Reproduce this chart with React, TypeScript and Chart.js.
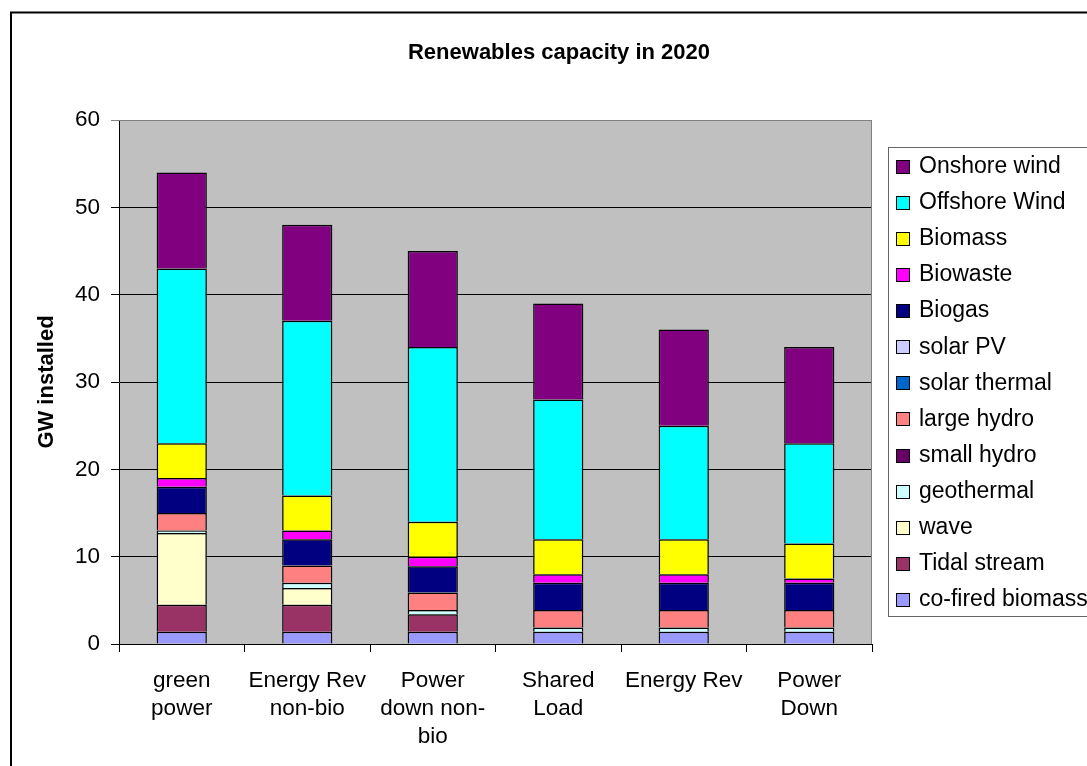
import React, { useEffect, useRef } from "react";
import { Chart, registerables } from "chart.js";

Chart.register(...registerables);

const FONT = '"Liberation Sans", Arial, Helvetica, sans-serif';

const categories: (string | string[])[] = [
  ["green", "power"],
  ["Energy Rev", "non-bio"],
  ["Power", "down non-", "bio"],
  ["Shared", "Load"],
  ["Energy Rev"],
  ["Power", "Down"],
];

// series, bottom of stack first
const coFiredBiomass = [1.4, 1.4, 1.4, 1.4, 1.4, 1.4];
const tidalStream = [3.1, 3.1, 2.0, 0, 0, 0];
const wave = [8.2, 1.9, 0, 0, 0, 0];
const geothermal = [0.3, 0.6, 0.5, 0.5, 0.5, 0.5];
const smallHydro = [0, 0, 0, 0, 0, 0];
const largeHydro = [2, 2, 2, 2, 2, 2];
const solarThermal = [0, 0, 0, 0, 0, 0];
const solarPV = [0, 0, 0, 0, 0, 0];
const biogas = [3, 3, 3, 3.1, 3.1, 3.1];
const biowaste = [1, 1, 1.1, 1, 1, 0.5];
const biomass = [4, 4, 4, 4, 4, 4];
const offshoreWind = [20, 20, 20, 16, 13, 11.5];
const onshoreWind = [11, 11, 11, 11, 11, 11];

const yTicks = [0, 10, 20, 30, 40, 50, 60];

const seriesNames = [
  "co-fired biomass",
  "Tidal stream",
  "wave",
  "geothermal",
  "small hydro",
  "large hydro",
  "solar thermal",
  "solar PV",
  "Biogas",
  "Biowaste",
  "Biomass",
  "Offshore Wind",
  "Onshore wind",
];
const seriesValues = [
  coFiredBiomass,
  tidalStream,
  wave,
  geothermal,
  smallHydro,
  largeHydro,
  solarThermal,
  solarPV,
  biogas,
  biowaste,
  biomass,
  offshoreWind,
  onshoreWind,
];
const seriesColors = [
  "#9999FF",
  "#993366",
  "#FFFFCC",
  "#CCFFFF",
  "#660066",
  "#FF8080",
  "#0066CC",
  "#CCCCFF",
  "#000080",
  "#FF00FF",
  "#FFFF00",
  "#00FFFF",
  "#800080",
];

const titleText = "Renewables capacity in 2020";
const yTitleText = "GW installed";

const decorPlugin = {
  id: "decor",
  beforeDraw(chart: any) {
    const { ctx, chartArea: a } = chart;
    ctx.save();
    ctx.fillStyle = "#FFFFFF";
    ctx.fillRect(0, 0, chart.width, chart.height);
    ctx.fillStyle = "#C0C0C0";
    ctx.fillRect(a.left, a.top, a.right - a.left, a.bottom - a.top);
    ctx.restore();
  },
  afterDraw(chart: any) {
    const { ctx, chartArea: a } = chart;
    ctx.save();
    // plot area frame (top / right)
    ctx.strokeStyle = "#808080";
    ctx.lineWidth = 1;
    ctx.beginPath();
    ctx.moveTo(a.left, Math.round(a.top) + 0.5);
    ctx.lineTo(a.right, Math.round(a.top) + 0.5);
    ctx.moveTo(Math.round(a.right) - 0.5, a.top);
    ctx.lineTo(Math.round(a.right) - 0.5, a.bottom);
    ctx.stroke();

    // outer chart frame
    ctx.strokeStyle = "#000000";
    ctx.lineWidth = 2;
    ctx.strokeRect(11, 12.5, 1200, 1000);

    // title
    ctx.fillStyle = "#000000";
    ctx.font = `bold 22px ${FONT}`;
    ctx.textAlign = "center";
    ctx.textBaseline = "middle";
    ctx.fillText(titleText, 559, 52.5);

    // legend
    ctx.lineWidth = 1;
    ctx.strokeStyle = "#666666";
    ctx.strokeRect(888.5, 147.5, 400, 469);
    const ds = chart.data.datasets.slice().reverse();
    ctx.font = `23px ${FONT}`;
    ctx.textAlign = "left";
    ctx.textBaseline = "middle";
    ds.forEach((d: any, i: number) => {
      const y = 166.7 + i * 36.1;
      const by = Math.round(y - 7) + 0.5;
      ctx.fillStyle = d.backgroundColor;
      ctx.fillRect(896.5, by, 13, 13);
      ctx.strokeStyle = "#000000";
      ctx.strokeRect(896.5, by, 13, 13);
      ctx.fillStyle = "#000000";
      ctx.fillText(d.label, 919, y);
    });
    ctx.restore();
  },
};

export default function App() {
  const ref = useRef<HTMLCanvasElement | null>(null);

  useEffect(() => {
    if (!ref.current) return;
    const datasets = seriesNames.map((name, i) => ({
      label: name,
      data: seriesValues[i],
      backgroundColor: seriesColors[i],
      borderColor: "#000000",
      borderWidth: 1.5,
      borderSkipped: "start" as const,
      categoryPercentage: 1,
      barPercentage: 0.4,
    }));

    const chart = new Chart(ref.current, {
      type: "bar",
      data: { labels: categories, datasets },
      options: {
        animation: false,
        responsive: false,
        events: [],
        layout: { padding: { left: 0, top: 120, right: 215, bottom: 0 } },
        plugins: {
          legend: { display: false },
          title: { display: false },
          tooltip: { enabled: false },
        },
        scales: {
          x: {
            stacked: true,
            afterFit: (s: any) => {
              s.height = 122;
            },
            grid: {
              offset: true,
              drawOnChartArea: false,
              drawTicks: true,
              tickLength: 8,
              color: "#000000",
              lineWidth: 1,
            },
            border: { display: true, color: "#000000", width: 1 },
            ticks: {
              autoSkip: false,
              maxRotation: 0,
              minRotation: 0,
              padding: 15,
              color: "#000000",
              font: { family: FONT, size: 22.5, lineHeight: 28 / 22.5 },
            },
          },
          y: {
            stacked: true,
            min: yTicks[0],
            max: yTicks[yTicks.length - 1],
            afterFit: (s: any) => {
              s.width = 119;
            },
            afterBuildTicks: (s: any) => {
              s.ticks = yTicks.map((v) => ({ value: v }));
            },
            grid: {
              drawTicks: true,
              tickLength: 8,
              lineWidth: 1,
              color: (c: any) =>
                c.tick && c.tick.value === 60 ? "#808080" : "#000000",
            },
            border: { display: true, color: "#000000", width: 1 },
            ticks: {
              padding: 11,
              color: "#000000",
              font: { family: FONT, size: 22.5 },
            },
            title: {
              display: true,
              text: yTitleText,
              color: "#000000",
              font: { family: FONT, size: 22, weight: "bold" },
              padding: { top: 34, bottom: 0 },
            },
          },
        },
      },
      plugins: [decorPlugin],
    });
    return () => chart.destroy();
  }, []);

  return (
    <div
      style={{
        position: "absolute",
        left: 0,
        top: 0,
        width: 1087,
        height: 766,
        background: "#fff",
        overflow: "hidden",
      }}
    >
      <canvas ref={ref} width={1087} height={766} style={{ display: "block" }} />
    </div>
  );
}
